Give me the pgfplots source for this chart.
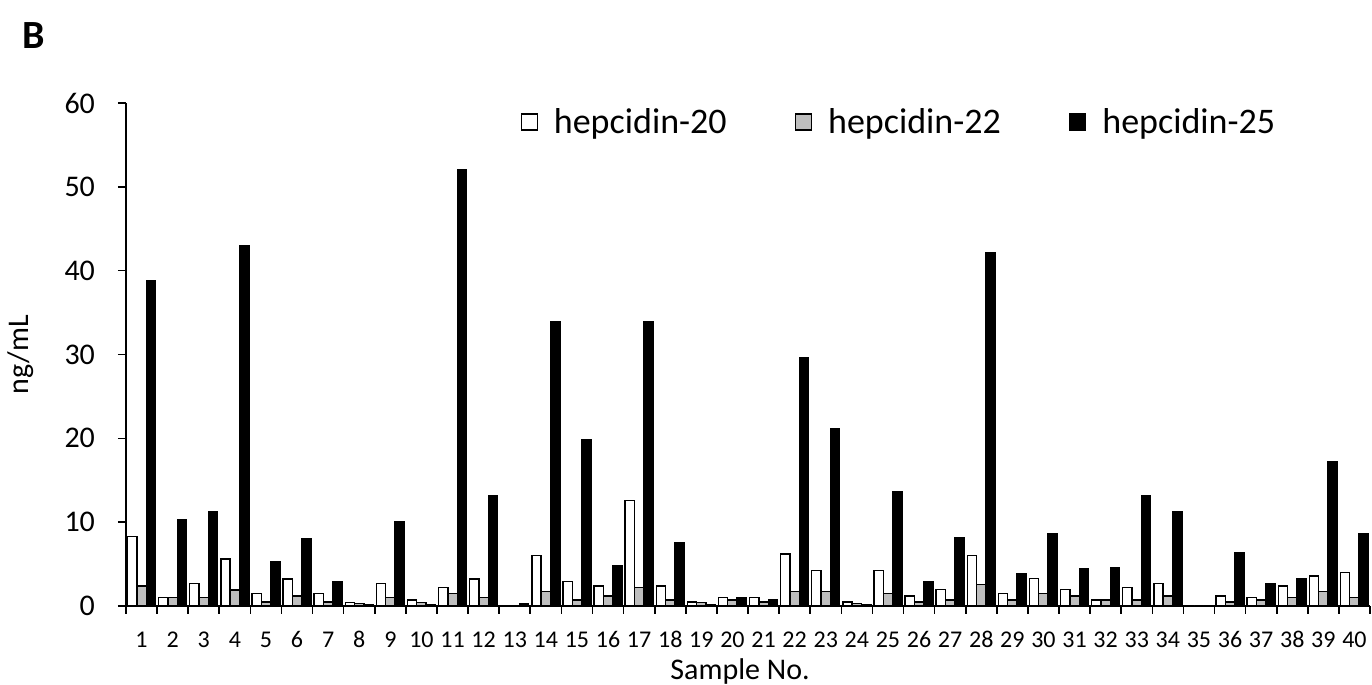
\documentclass[border=0pt]{standalone}
\usepackage{fontspec}
\setmainfont{Carlito}
\usepackage{pgfplots}
\usepackage{pgfplotstable}
\pgfplotsset{compat=1.18}
\definecolor{hgray}{RGB}{190,190,190}

% sample, hepcidin-20, hepcidin-22, hepcidin-25 (ng/mL)
\pgfplotstableread{
s h20 h22 h25
1 8.3 2.4 38.8
2 1.0 1.0 10.3
3 2.7 1.0 11.3
4 5.6 1.9 43.0
5 1.5 0.5 5.3
6 3.2 1.2 8.0
7 1.5 0.5 2.9
8 0.4 0.3 0.2
9 2.7 1.0 10.1
10 0.7 0.4 0.2
11 2.2 1.5 52.0
12 3.2 1.0 13.2
13 0.05 0.05 0.25
14 6.0 1.7 33.9
15 2.9 0.7 19.8
16 2.4 1.2 4.8
17 12.6 2.2 33.9
18 2.4 0.7 7.6
19 0.5 0.4 0.2
20 1.0 0.7 1.0
21 1.0 0.5 0.7
22 6.2 1.7 29.6
23 4.2 1.7 21.1
24 0.5 0.3 0.2
25 4.2 1.5 13.6
26 1.2 0.5 2.9
27 2.0 0.7 8.1
28 6.0 2.6 42.2
29 1.5 0.7 3.9
30 3.3 1.5 8.6
31 2.0 1.2 4.4
32 0.7 0.7 4.6
33 2.2 0.7 13.2
34 2.7 1.2 11.3
35 0 0 0
36 1.2 0.5 6.3
37 1.0 0.7 2.7
38 2.4 1.0 3.2
39 3.6 1.7 17.2
40 4.0 1.0 8.6
}\hepdata

\begin{document}
\begin{tikzpicture}
\useasboundingbox (-63pt,-39.5pt) rectangle (623pt,303pt);
\begin{axis}[
    at={(0,0)}, anchor=south west,
    scale only axis, width=622pt, height=251.5pt,
    xmin=0.5, xmax=40.5, ymin=0, ymax=60,
    clip=false,
    axis lines*=left,
    axis line style={-, line width=0.8pt, black},
    ytick={0,10,...,60},
    xtick={1,...,40},
    minor xtick={0.5,1.5,...,40.5},
    major x tick style={draw=none},
    every tick/.style={black, line width=0.8pt},
    tick align=outside,
    major tick length=4pt, minor tick length=4pt,
    /pgf/number format/assume math mode=true,
    xticklabel style={font=\fontsize{12}{14}\selectfont, text height=8pt, text depth=0pt, yshift=-5pt},
    yticklabel style={font=\fontsize{15}{18}\selectfont, xshift=-8pt},
    xlabel={Sample No.},
    ylabel={ng/mL},
    xlabel style={font=\fontsize{15}{18}\selectfont, at={(axis description cs:0.4936,-0.13)}, anchor=center},
    ylabel style={font=\fontsize{15}{18}\selectfont, at={(axis description cs:-0.085,0.5)}, anchor=center},
    ybar, bar width=0.3,
    legend columns=3,
    legend style={draw=none, fill=none, font=\fontsize{18}{21}\selectfont,
        at={(axis description cs:0.312,0.962)}, anchor=west,
        /tikz/every even column/.append style={column sep=32pt}},
    legend image code/.code={\draw[#1] (0pt,-4pt) rectangle (8pt,4pt); \path (14pt,0pt);},
]
\addplot[fill=white, draw=black, line width=0.7pt, bar shift=-0.3] table[x=s, y=h20] {\hepdata};
\addlegendentry{hepcidin-20}
\addplot[fill=hgray, draw=black, line width=0.7pt, bar shift=0] table[x=s, y=h22] {\hepdata};
\addlegendentry{hepcidin-22}
\addplot[fill=black, draw=black, line width=0.7pt, bar shift=0.3] table[x=s, y=h25] {\hepdata};
\addlegendentry{hepcidin-25}
\node[font=\bfseries\fontsize{20}{24}\selectfont] at (axis description cs:-0.074,1.135) {B};
\end{axis}
\end{tikzpicture}
\end{document}
